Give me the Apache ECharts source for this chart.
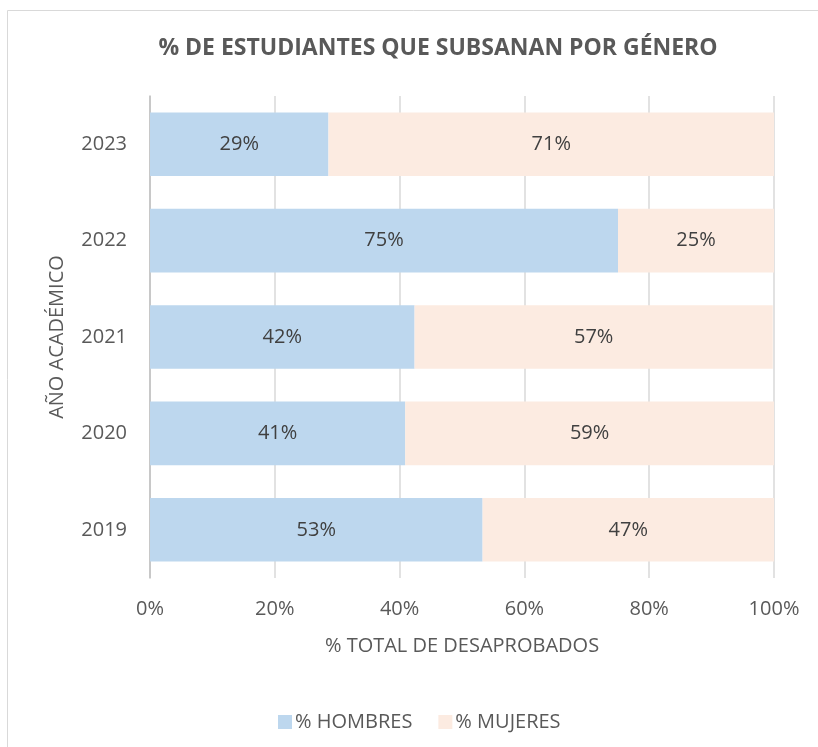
<!DOCTYPE html>
<html>
<head>
<meta charset="utf-8">
<script src="https://cdn.jsdelivr.net/npm/echarts@6/dist/echarts.min.js"></script>
<style>
    html, body { margin: 0; padding: 0; background: #fff; }
    #chart { width: 818px; height: 747px; }
</style>
</head>
<body>
<div id="chart"></div>
<script>
const years = ['2019', '2020', '2021', '2022', '2023']
const hombres = [53.3, 40.9, 42.4, 75.0, 28.6]
const mujeres = [46.7, 59.1, 57.4, 25.0, 71.4]
const xTicks = [0, 20, 40, 60, 80, 100]

const font = 'Open Sans'
const myChart = echarts.init(document.getElementById('chart'))

const labelStyle = {
    show: true,
    position: 'inside',
    color: '#404040',
    fontFamily: font,
    fontSize: 20,
    formatter: p => Math.round(p.value) + '%'
}

const option = {
    animation: false,
    title: {
        text: '% DE ESTUDIANTES QUE SUBSANAN POR GÉNERO',
        left: 433,
        top: 32,
        textAlign: 'center',
        textStyle: {
            fontFamily: font,
            fontWeight: 'bold',
            fontSize: 23,
            color: '#595959'
        }
    },
    graphic: [
        {
            type: 'rect',
            shape: { x: 7.5, y: 10.5, width: 830, height: 760 },
            style: { fill: 'none', stroke: '#D9D9D9', lineWidth: 1 },
            silent: true
        }
    ],
    legend: {
        left: 273,
        top: 707,
        itemWidth: 14,
        itemHeight: 14,
        itemGap: 26,
        icon: 'rect',
        textStyle: {
            fontFamily: font,
            fontSize: 20,
            color: '#595959',
            padding: [0, 0, 0, -2]
        },
        data: ['% HOMBRES', '% MUJERES']
    },
    grid: {
        left: 150,
        right: 44,
        top: 96,
        bottom: 169
    },
    xAxis: {
        type: 'value',
        min: 0,
        max: 100,
        interval: 20,
        name: '% TOTAL DE DESAPROBADOS',
        nameLocation: 'middle',
        nameGap: 58,
        nameTextStyle: {
            fontFamily: font,
            fontSize: 20,
            color: '#595959'
        },
        axisLine: { show: false },
        axisTick: { show: false },
        axisLabel: {
            margin: 21,
            fontFamily: font,
            fontSize: 20,
            color: '#595959',
            formatter: v => (xTicks.includes(v) ? v + '%' : '')
        },
        splitLine: {
            show: true,
            lineStyle: { color: '#D9D9D9', width: 1.5 }
        }
    },
    yAxis: {
        type: 'category',
        data: years,
        name: 'AÑO ACADÉMICO',
        nameLocation: 'middle',
        nameGap: 83,
        nameTextStyle: {
            fontFamily: font,
            fontSize: 20,
            color: '#595959'
        },
        axisLine: { show: true, lineStyle: { color: '#BFBFBF', width: 1.5 } },
        axisTick: { show: false },
        axisLabel: {
            margin: 23,
            fontFamily: font,
            fontSize: 20,
            color: '#595959'
        }
    },
    series: [
        {
            name: '% HOMBRES',
            type: 'bar',
            stack: 'total',
            barWidth: '66%',
            data: hombres,
            itemStyle: { color: '#BDD7EE' },
            label: labelStyle
        },
        {
            name: '% MUJERES',
            type: 'bar',
            stack: 'total',
            barWidth: '66%',
            data: mujeres,
            itemStyle: { color: '#FCEBE1' },
            label: labelStyle
        }
    ]
}

myChart.setOption(option)
</script>
</body>
</html>
